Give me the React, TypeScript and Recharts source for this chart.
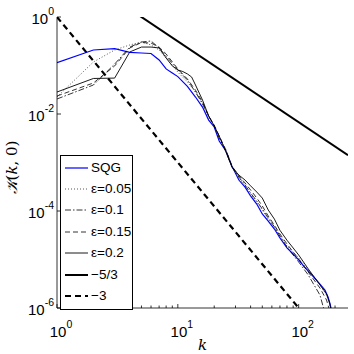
import React from 'react';
import { LineChart, Line, XAxis, YAxis, Legend } from 'recharts';

// ---- data (k = wavenumber, values = K(k,0)) ----
const K_SQG = [1, 2, 3, 4, 5, 6, 7, 8, 9, 10, 12, 14, 16, 18, 20, 22, 25, 28, 32, 36, 40, 45, 50, 56, 63, 70, 80, 90, 100, 110, 120, 135, 150, 165, 175, 182, 188];
const V_SQG = [0.114, 0.209, 0.222, 0.187, 0.181, 0.177, 0.13, 0.085, 0.07, 0.059, 0.037, 0.0224, 0.0139, 0.0075, 0.0054, 0.00277, 0.00173, 8.5e-4, 4.35e-4, 3.1e-4, 2.04e-4, 1.39e-4, 8.7e-5, 6.2e-5, 4.25e-5, 2.77e-5, 1.73e-5, 1.3e-5, 9.8e-6, 7.3e-6, 5.8e-6, 4.2e-6, 3.1e-6, 2.35e-6, 1.69e-6, 1.21e-6, 8.3e-7];

const K_EPS = [1, 2, 3, 4, 5, 6, 7, 8, 10, 12, 14, 16, 18, 20, 22, 25, 28, 32, 36, 40, 45, 50, 56, 63, 70, 80, 90, 100, 120, 150, 170, 180, 188];
const V_E005 = [0.0224, 0.118, 0.209, 0.265, 0.305, 0.265, 0.209, 0.143, 0.073, 0.0457, 0.0284, 0.0169, 0.0086, 0.0059, 0.00336, 0.00181, 8.5e-4, 4.8e-4, 3.3e-4, 2.24e-4, 1.53e-4, 1.05e-4, 6.8e-5, 4.7e-5, 3.05e-5, 1.9e-5, 1.43e-5, 1.07e-5, 6.1e-6, 3.0e-6, 1.85e-6, 1.27e-6, 8e-7];
const V_E010 = [0.0204, 0.0396, 0.107, 0.24, 0.305, 0.32, 0.23, 0.157, 0.081, 0.0502, 0.0284, 0.0161, 0.0091, 0.00566, 0.0032, 0.00173, 8.1e-4, 5.0e-4, 3.44e-4, 2.35e-4, 1.61e-4, 1.1e-4, 7.2e-5, 4.7e-5, 3.05e-5, 1.81e-5, 1.24e-5, 8.9e-6, 4.8e-6, 1.85e-6, 6e-7, 4e-7, 3e-7];
const V_E015 = [0.0235, 0.0436, 0.098, 0.23, 0.298, 0.29, 0.24, 0.173, 0.085, 0.0527, 0.031, 0.0177, 0.0091, 0.0059, 0.00352, 0.00181, 8.5e-4, 5.3e-4, 3.78e-4, 2.71e-4, 1.85e-4, 1.27e-4, 7.9e-5, 5.1e-5, 3.36e-5, 2.09e-5, 1.43e-5, 1.02e-5, 5.5e-6, 2.58e-6, 1.46e-6, 9e-7, 6e-7];

const K_E020 = [1, 2, 3, 4, 5, 6, 7, 8, 9, 10, 11, 12, 13, 14, 16, 18, 20, 22, 25, 28, 32, 36, 40, 45, 50, 56, 63, 70, 80, 90, 100, 120, 150, 170, 180, 188];
const V_E020 = [0.0284, 0.054, 0.055, 0.19, 0.24, 0.24, 0.23, 0.143, 0.098, 0.081, 0.075, 0.067, 0.058, 0.0396, 0.0194, 0.0091, 0.00566, 0.00352, 0.00165, 8.1e-4, 5.5e-4, 4.35e-4, 3.3e-4, 2.46e-4, 1.85e-4, 1.05e-4, 6.8e-5, 4.0e-5, 2.5e-5, 1.73e-5, 1.24e-5, 6.4e-6, 3.0e-6, 1.95e-6, 1.27e-6, 8e-7];

const K_M53 = [4, 256];
const V_M53 = [1.45, 1.41e-3];
const K_M3 = [1, 100];
const V_M3 = [1, 1e-6];

const X_TICKS = [1, 2, 3, 4, 5, 6, 7, 8, 9, 10, 20, 30, 40, 50, 60, 70, 80, 90, 100, 200];
const Y_TICKS = [1e-6, 1e-4, 1e-2, 1];
const X_DOMAIN = [1, 256];
const Y_DOMAIN = [1e-6, 1];

const zip = (ks: number[], vs: number[]) => ks.map((k, i) => ({ k, v: vs[i] }));

const SERIES = [
  { name: 'SQG', data: zip(K_SQG, V_SQG), stroke: '#0000ff', width: 1.2, dash: undefined as string | undefined },
  { name: 'ε=0.05', data: zip(K_EPS, V_E005), stroke: '#444', width: 0.9, dash: '1 2' },
  { name: 'ε=0.1', data: zip(K_EPS, V_E010), stroke: '#000', width: 0.8, dash: '6 2 1.5 2' },
  { name: 'ε=0.15', data: zip(K_EPS, V_E015), stroke: '#000', width: 0.8, dash: '5 3' },
  { name: 'ε=0.2', data: zip(K_E020, V_E020), stroke: '#000', width: 0.9, dash: undefined },
  { name: '−5/3', data: zip(K_M53, V_M53), stroke: '#000', width: 2, dash: undefined },
  { name: '−3', data: zip(K_M3, V_M3), stroke: '#000', width: 2.2, dash: '6 4' },
];

const FONT = '"Liberation Sans", Arial, Helvetica, sans-serif';

const isDecade = (v: number) => Math.abs(Math.log10(v) - Math.round(Math.log10(v))) < 1e-9;

const XTickBottom = (props: any) => {
  const { x, y, payload } = props;
  const v = payload.value;
  const major = isDecade(v);
  const e = Math.round(Math.log10(v));
  return (
    <g>
      <line x1={x} x2={x} y1={y} y2={y - (major ? 4 : 2.5)} stroke="#000" strokeWidth={0.8} />
      {major && (
        <text x={x + 4} y={y + 29} textAnchor="middle" fontSize={15} fontFamily={FONT} fill="#000">
          10<tspan dy={-9} fontSize={10.5}>{String(e)}</tspan>
        </text>
      )}
    </g>
  );
};

const XTickTop = (props: any) => {
  const { x, y, payload } = props;
  const major = isDecade(payload.value);
  return <line x1={x} x2={x} y1={y} y2={y + (major ? 4 : 2.5)} stroke="#000" strokeWidth={0.8} />;
};

const YTickLeft = (props: any) => {
  const { x, y, payload } = props;
  const e = Math.round(Math.log10(payload.value));
  return (
    <g>
      <line x1={x} x2={x + 4} y1={y} y2={y} stroke="#000" strokeWidth={0.8} />
      <text x={x - 3} y={y + 7} textAnchor="end" fontSize={15} fontFamily={FONT} fill="#000">
        10<tspan dy={-9} fontSize={10.5}>{e === 0 ? '0' : '-' + String(-e)}</tspan>
      </text>
    </g>
  );
};

const YTickRight = (props: any) => {
  const { x, y } = props;
  return <line x1={x} x2={x - 4} y1={y} y2={y} stroke="#000" strokeWidth={0.8} />;
};

const YLabel = (props: any) => {
  const vb = props.viewBox || { x: 0, y: 17, width: 57, height: 291 };
  const cx = vb.x + 17;
  const cy = vb.y + vb.height / 2 + 5;
  return (
    <text x={cx} y={cy} transform={`rotate(-90 ${cx} ${cy})`} textAnchor="middle" fontSize={15} fontFamily='"DejaVu Serif", serif' fill="#000">
      <tspan fontStyle="italic">𝒦</tspan>(<tspan fontStyle="italic">k</tspan>, 0)
    </text>
  );
};

const XLabel = (props: any) => {
  const vb = props.viewBox || { x: 57, y: 308, width: 291, height: 46 };
  return (
    <text x={vb.x + vb.width / 2} y={vb.y + 42} textAnchor="middle" fontSize={15} fontStyle="italic" fontFamily='"DejaVu Serif", serif' fill="#000">
      k
    </text>
  );
};

const LegendBox = () => (
  <div style={{ border: '1px solid #000', background: '#fff', width: 73, padding: '1px 0 2px 0', fontFamily: FONT, fontSize: 13.5, color: '#000', boxSizing: 'border-box' }}>
    {SERIES.map((s) => (
      <div key={s.name} style={{ display: 'flex', alignItems: 'center', height: 21.4 }}>
        <svg width={30} height={10} style={{ display: 'block' }}>
          <line x1={4} x2={27} y1={5} y2={5} stroke={s.stroke} strokeWidth={s.width} strokeDasharray={s.dash} />
        </svg>
        <span style={{ lineHeight: '14px' }}>{s.name}</span>
      </div>
    ))}
  </div>
);

export default function App() {
  return (
    <div style={{ position: 'fixed', left: 0, top: 0, width: 354, height: 354, background: '#fff' }}>
      <LineChart width={354} height={354} margin={{ top: 17, right: 6, bottom: 0, left: 0 }}>
        <XAxis
          dataKey="k"
          type="number"
          scale="log"
          domain={X_DOMAIN}
          allowDataOverflow
          ticks={X_TICKS}
          interval={0}
          tickSize={0}
          tickMargin={0}
          tickLine={false}
          tick={<XTickBottom />}
          axisLine={{ stroke: '#000', strokeWidth: 0.8 }}
          height={46}
          label={<XLabel />}
        />
        <XAxis
          xAxisId="top"
          orientation="top"
          dataKey="k"
          type="number"
          scale="log"
          domain={X_DOMAIN}
          allowDataOverflow
          ticks={X_TICKS}
          interval={0}
          tickSize={0}
          tickMargin={0}
          tickLine={false}
          tick={<XTickTop />}
          axisLine={{ stroke: '#000', strokeWidth: 0.8 }}
          height={0}
        />
        <YAxis
          type="number"
          scale="log"
          domain={Y_DOMAIN}
          allowDataOverflow
          ticks={Y_TICKS}
          interval={0}
          tickSize={0}
          tickMargin={0}
          tickLine={false}
          tick={<YTickLeft />}
          axisLine={{ stroke: '#000', strokeWidth: 0.8 }}
          width={57}
          label={<YLabel />}
        />
        <YAxis
          yAxisId="right"
          orientation="right"
          type="number"
          scale="log"
          domain={Y_DOMAIN}
          allowDataOverflow
          ticks={Y_TICKS}
          interval={0}
          tickSize={0}
          tickMargin={0}
          tickLine={false}
          tick={<YTickRight />}
          axisLine={{ stroke: '#000', strokeWidth: 0.8 }}
          width={0}
        />
        {SERIES.map((s) => (
          <Line
            key={s.name}
            data={s.data}
            dataKey="v"
            name={s.name}
            type="linear"
            stroke={s.stroke}
            strokeWidth={s.width}
            strokeDasharray={s.dash}
            dot={false}
            activeDot={false}
            isAnimationActive={false}
          />
        ))}
        <Legend
          layout="vertical"
          align="center"
          verticalAlign="middle"
          content={<LegendBox />}
          wrapperStyle={{ left: 60, top: 155, width: 'auto', height: 'auto' }}
        />
      </LineChart>
    </div>
  );
}
